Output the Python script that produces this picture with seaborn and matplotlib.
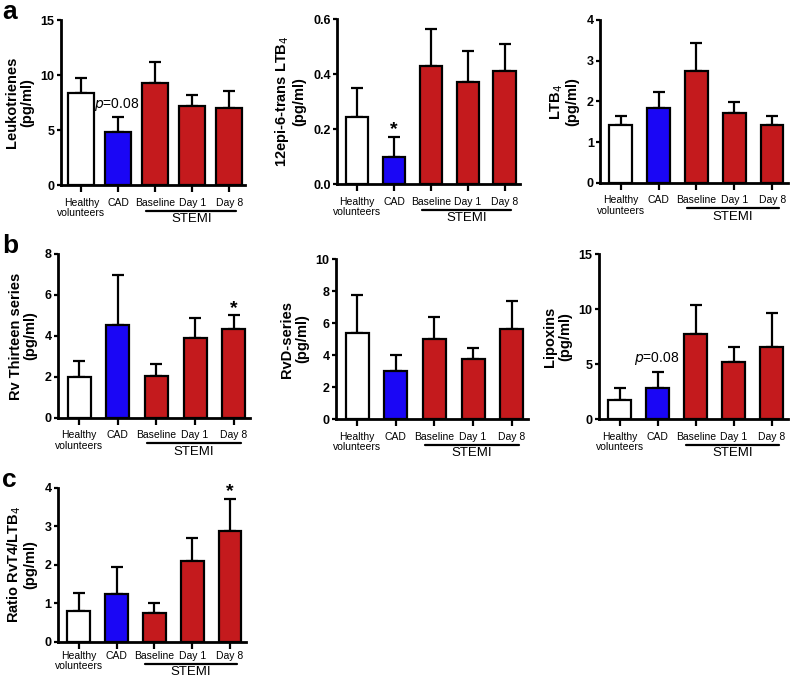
import numpy as np
import pandas as pd
import matplotlib
matplotlib.use("Agg")
import matplotlib.pyplot as plt
import matplotlib.transforms as mtransforms
import seaborn as sns

sns.set_style("ticks")
plt.rcParams['font.family'] = ['Liberation Sans', 'DejaVu Sans']
plt.rcParams['text.color'] = 'black'
plt.rcParams['axes.labelcolor'] = 'black'
plt.rcParams['xtick.color'] = 'black'
plt.rcParams['ytick.color'] = 'black'
plt.rcParams['axes.edgecolor'] = 'black'

groups = ["Healthy\nvolunteers", "CAD", "Baseline", "Day 1", "Day 8"]
colors = ["#ffffff", "#1a06f5", "#c41a1d", "#c41a1d", "#c41a1d"]

leuko_mean = [8.4, 4.85, 9.3, 7.18, 6.97]
leuko_err = [1.36, 1.3, 1.9, 1.0, 1.58]
epi_mean = [0.242, 0.097, 0.43, 0.37, 0.411]
epi_err = [0.108, 0.074, 0.132, 0.115, 0.097]
ltb4_mean = [1.43, 1.84, 2.74, 1.72, 1.42]
ltb4_err = [0.22, 0.40, 0.69, 0.26, 0.22]
rvt_mean = [2.0, 4.55, 2.06, 3.9, 4.35]
rvt_err = [0.79, 2.41, 0.59, 0.97, 0.65]
rvd_mean = [5.4, 3.0, 5.01, 3.76, 5.6]
rvd_err = [2.35, 0.99, 1.34, 0.69, 1.77]
lipox_mean = [1.76, 2.79, 7.73, 5.21, 6.58]
lipox_err = [1.06, 1.51, 2.67, 1.34, 3.09]
ratio_mean = [0.81, 1.25, 0.74, 2.1, 2.87]
ratio_err = [0.46, 0.70, 0.27, 0.59, 0.84]

panels = [
    dict(mean=leuko_mean, err=leuko_err, ylabel="Leukotrienes\n(pg/ml)", ymax=15, ticks=[0, 5, 10, 15],
         fmt="{:g}", pos=[0.0772, 0.7279, 0.2329, 0.2426], width=0.7, letter="a",
         note=(1, "$p$=0.08", "p"), off=(0.255, 0.28), xpad=4),
    dict(mean=epi_mean, err=epi_err, ylabel="12epi-6-trans LTB$_4$\n(pg/ml)", ymax=0.6, ticks=[0, 0.2, 0.4, 0.6],
         fmt="{:.1f}", pos=[0.4266, 0.7294, 0.2316, 0.2426], width=0.6, letter=None,
         note=(1, "*", "star"), off=(0.255, 0.28), xpad=4),
    dict(mean=ltb4_mean, err=ltb4_err, ylabel="LTB$_4$\n(pg/ml)", ymax=4, ticks=[0, 1, 2, 3, 4],
         fmt="{:g}", pos=[0.7595, 0.7309, 0.2380, 0.2397], width=0.6, letter=None, note=None,
         off=(0.255, 0.28), xpad=4),
    dict(mean=rvt_mean, err=rvt_err, ylabel="Rv Thirteen series\n(pg/ml)", ymax=8, ticks=[0, 2, 4, 6, 8],
         fmt="{:g}", pos=[0.0734, 0.3853, 0.2430, 0.2412], width=0.6, letter="b",
         note=(4, "*", "star"), off=(0.255, 0.28), xpad=4),
    dict(mean=rvd_mean, err=rvd_err, ylabel="RvD-series\n(pg/ml)", ymax=10, ticks=[0, 2, 4, 6, 8, 10],
         fmt="{:g}", pos=[0.4253, 0.3838, 0.2430, 0.2353], width=0.6, letter=None, note=None,
         off=(0.255, 0.28), xpad=4),
    dict(mean=lipox_mean, err=lipox_err, ylabel="Lipoxins\n(pg/ml)", ymax=15, ticks=[0, 5, 10, 15],
         fmt="{:g}", pos=[0.7582, 0.3838, 0.2390, 0.2426], width=0.6, letter=None,
         note=(1, "$p$=0.08", "p"), off=(0.255, 0.28), xpad=4),
    dict(mean=ratio_mean, err=ratio_err, ylabel="Ratio RvT4/LTB$_4$\n(pg/ml)", ymax=4, ticks=[0, 1, 2, 3, 4],
         fmt="{:g}", pos=[0.0734, 0.0559, 0.2380, 0.2265], width=0.6, letter="c",
         note=(4, "*", "star"), off=(0.225, 0.245), xpad=1.5),
]

fig = plt.figure(figsize=(7.9, 6.8), dpi=100)

for p in panels:
    ax = fig.add_axes(p["pos"])
    df = pd.DataFrame({"group": groups, "value": p["mean"]})
    sns.barplot(data=df, x="group", y="value", hue="group", palette=colors, legend=False,
                saturation=1, width=p["width"], edgecolor="black", linewidth=1.6, ax=ax,
                errorbar=None, zorder=2)
    x = np.arange(len(groups))
    ax.errorbar(x, p["mean"], yerr=[np.zeros(len(groups)), p["err"]], fmt="none",
                ecolor="black", elinewidth=1.6, capsize=4.5, capthick=1.6, zorder=1)
    ax.set_xlim(-0.55, 4.42)
    ax.set_ylim(0, p["ymax"])
    ax.set_yticks(p["ticks"])
    ax.set_yticklabels([p["fmt"].format(t) for t in p["ticks"]], fontsize=9, fontweight="bold")
    ax.set_xticks(x)
    ax.set_xticklabels(groups, fontsize=7.5, linespacing=1.05)
    ax.set_xlabel("")
    ax.set_ylabel(p["ylabel"], fontsize=10.5, fontweight="bold", linespacing=1.1, labelpad=5)
    for s in ["top", "right"]:
        ax.spines[s].set_visible(False)
    for s in ["left", "bottom"]:
        ax.spines[s].set_linewidth(2)
    ax.tick_params(axis="y", width=1.6, length=3, direction="out", pad=1.5)
    ax.tick_params(axis="x", width=1.6, length=5, direction="out", pad=p["xpad"])

    # STEMI bracket
    l_off, t_off = p["off"]
    off = mtransforms.ScaledTranslation(0, -l_off, fig.dpi_scale_trans)
    tr = ax.get_xaxis_transform() + off
    ax.plot([1.75, 4.18], [0, 0], color="black", lw=1.6, transform=tr, clip_on=False)
    off2 = mtransforms.ScaledTranslation(0, -t_off, fig.dpi_scale_trans)
    ax.text(2.97, 0, "STEMI", transform=ax.get_xaxis_transform() + off2, ha="center", va="top", fontsize=9.5)

    if p["note"] is not None:
        i, txt, kind = p["note"]
        top = p["mean"][i] + p["err"][i]
        if kind == "star":
            ax.annotate(txt, (i, top), xytext=(0, -1), textcoords="offset points",
                        ha="center", va="bottom", fontsize=14, fontweight="bold")
        else:
            ax.annotate(txt, (i, top), xytext=(-1, 3.5), textcoords="offset points",
                        ha="center", va="bottom", fontsize=10)

    if p["letter"]:
        bb = p["pos"]
        fig.text(0.003, bb[1] + bb[3] + 0.03, p["letter"], fontsize=19, fontweight="bold",
                 ha="left", va="top")

fig.savefig("out.png", dpi=100)
